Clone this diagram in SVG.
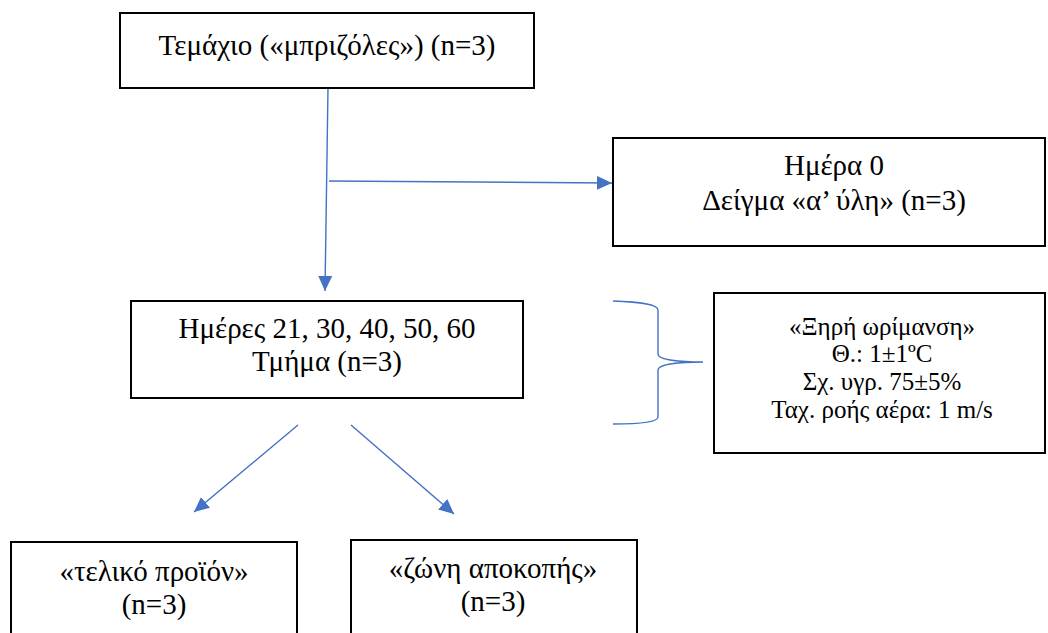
<svg xmlns="http://www.w3.org/2000/svg" width="1048" height="633" viewBox="0 0 1048 633">
<style>
.box{fill:#fff;stroke:#000;stroke-width:2}
.t{font-family:"Liberation Serif","Times New Roman","DejaVu Serif",serif;font-size:29px;fill:#000;text-anchor:middle}
.s{font-size:25px}
.c{fill:none;stroke:#4472C4;stroke-width:1.4}
</style>
<defs>
<marker id="ah" markerUnits="userSpaceOnUse" markerWidth="16" markerHeight="14" refX="15" refY="7" orient="auto">
<path d="M0,0 L15,7 L0,14 z" fill="#4472C4"/>
</marker>
</defs>
<rect width="1048" height="633" fill="#fff"/>
<g id="connectors">
<path class="c" d="M328,88 L325,291" marker-end="url(#ah)"/>
<path class="c" d="M329,181 L612,183" marker-end="url(#ah)"/>
<path class="c" d="M298,425 L194,512" marker-end="url(#ah)"/>
<path class="c" d="M351,425 L454,514" marker-end="url(#ah)"/>
<path class="c" d="M613,301 C640,302 658,304 658,310 L658,354 C658,360 680,362 703,362 C680,362 658,364 658,370 L658,417 C658,422 640,424 613,424"/>
</g>
<g id="n1">
<rect class="box" x="120" y="13" width="414" height="75"/>
<text class="t" x="327" y="55">Τεμάχιο («μπριζόλες») (n=3)</text>
</g>
<g id="n2">
<rect class="box" x="613" y="138" width="432" height="108"/>
<text class="t" x="834" y="175">Ημέρα 0</text>
<text class="t" x="834" y="210">Δείγμα «α’ ύλη» (n=3)</text>
</g>
<g id="n3">
<rect class="box" x="131" y="301" width="392" height="97"/>
<text class="t" x="327" y="338">Ημέρες 21, 30, 40, 50, 60</text>
<text class="t" x="327" y="371">Τμήμα (n=3)</text>
</g>
<g id="n4">
<rect class="box" x="714" y="293" width="331" height="160"/>
<text class="t s" x="882" y="335">«Ξηρή ωρίμανση»</text>
<text class="t s" x="882" y="362">Θ.: 1±1ºC</text>
<text class="t s" x="882" y="390">Σχ. υγρ. 75±5%</text>
<text class="t s" x="882" y="418">Ταχ. ροής αέρα: 1 m/s</text>
</g>
<g id="n5">
<rect class="box" x="11" y="542" width="286" height="100"/>
<text class="t" x="154" y="581">«τελικό προϊόν»</text>
<text class="t" x="154" y="614">(n=3)</text>
</g>
<g id="n6">
<rect class="box" x="351" y="540" width="286" height="100"/>
<text class="t" x="493" y="578">«ζώνη αποκοπής»</text>
<text class="t" x="493" y="611">(n=3)</text>
</g>
</svg>
